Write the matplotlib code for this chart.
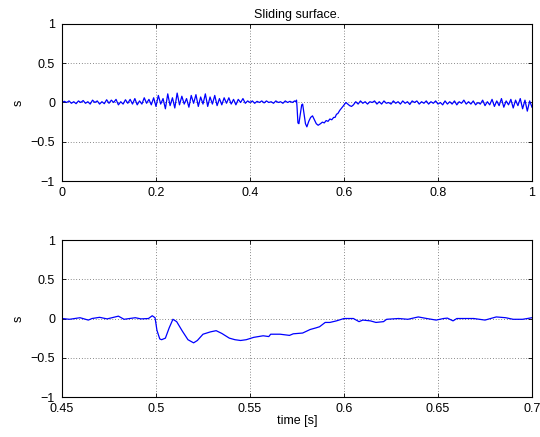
import numpy as np
import matplotlib
matplotlib.use("Agg")
import matplotlib.pyplot as plt

# --- top panel: sliding surface over the full run ---
s_noise_a = [  # t = 0.000 ... 0.495, step 0.005
    0.00, 0.015, 0.00, 0.02, -0.01, 0.01, -0.015, 0.02, 0.00, 0.025,
    -0.01, 0.01, -0.02, 0.03, 0.00, 0.02, -0.02, 0.01, -0.015, 0.035,
    -0.01, 0.03, 0.00, 0.04, -0.03, 0.01, -0.02, 0.035, -0.01, 0.04,
    -0.02, 0.05, -0.03, 0.02, -0.02, 0.06, -0.01, 0.04, -0.03, 0.06,
    -0.05, 0.09, -0.02, 0.05, -0.08, 0.11, -0.04, 0.06, -0.07, 0.12,
    -0.03, 0.08, -0.02, 0.05, -0.06, 0.09, -0.01, 0.10, -0.05, 0.07,
    -0.02, 0.11, -0.05, 0.07, -0.02, 0.09, -0.04, 0.05, -0.03, 0.06,
    -0.01, 0.06, -0.02, 0.04, -0.03, 0.04, 0.00, 0.05, -0.01, 0.02,
    0.00, 0.02, -0.01, 0.015, 0.00, 0.02, -0.005, 0.02, 0.00, 0.01,
    -0.01, 0.02, 0.00, 0.01, -0.01, 0.02, 0.00, 0.015, 0.00, 0.02,
]
t_event = [0.497, 0.499, 0.500, 0.502, 0.504, 0.507, 0.510, 0.512, 0.515, 0.518,
           0.521, 0.525, 0.529, 0.533, 0.537, 0.541, 0.545, 0.550, 0.554, 0.558,
           0.562, 0.566, 0.570, 0.574, 0.578, 0.581, 0.584, 0.587, 0.591, 0.595,
           0.599, 0.604, 0.608, 0.612, 0.616, 0.620]
s_event = [0.01, 0.03, -0.05, -0.26, -0.27, -0.15, -0.03, -0.02, -0.15, -0.27,
           -0.31, -0.24, -0.19, -0.17, -0.22, -0.27, -0.29, -0.27, -0.25, -0.26,
           -0.23, -0.24, -0.21, -0.22, -0.19, -0.19, -0.15, -0.14, -0.10, -0.07,
           -0.04, 0.00, -0.02, -0.04, -0.05, -0.03]
s_noise_b = [  # t = 0.625 ... 1.000, step 0.005
    0.01, -0.02, 0.02, -0.01, 0.01, -0.02, 0.01, 0.00, 0.02, -0.02,
    0.01, -0.02, 0.02, -0.01, 0.00, -0.02, 0.02, -0.01, 0.01, -0.02,
    0.02, -0.01, 0.01, -0.025, 0.02, 0.00, 0.02, -0.02, 0.01, -0.01,
    0.02, -0.02, 0.01, -0.01, 0.02, -0.02, 0.00, -0.03, 0.02, -0.02,
    0.01, -0.02, 0.02, -0.03, 0.01, -0.01, 0.03, -0.02, 0.01, -0.02,
    0.02, -0.03, 0.00, -0.02, 0.03, -0.04, 0.01, -0.03, 0.04, -0.05,
    0.02, -0.04, 0.05, -0.06, 0.02, -0.03, 0.04, -0.07, 0.03, -0.04,
    0.05, -0.08, 0.03, -0.11, 0.02, -0.06,
]

# --- bottom panel: zoom on 0.45 ... 0.7 s ---
t_zoom = [0.450, 0.454, 0.4596, 0.464, 0.466, 0.470, 0.474, 0.480, 0.483, 0.489,
          0.492, 0.496, 0.498, 0.4995, 0.5005, 0.502, 0.503, 0.505, 0.507, 0.509,
          0.511, 0.514, 0.517, 0.520, 0.522, 0.525, 0.529, 0.532, 0.535, 0.539,
          0.542, 0.545, 0.548, 0.552, 0.557, 0.560, 0.561, 0.566, 0.571, 0.573,
          0.578, 0.582, 0.585, 0.587, 0.590, 0.5925, 0.596, 0.600, 0.605, 0.608,
          0.610, 0.614, 0.617, 0.621, 0.6227, 0.629, 0.634, 0.6395, 0.644, 0.649,
          0.653, 0.655, 0.658, 0.660, 0.669, 0.675, 0.681, 0.686, 0.690, 0.695,
          0.700]
s_zoom = [0.00, -0.01, 0.01, -0.02, 0.00, 0.015, -0.005, 0.03, -0.01, 0.01,
          -0.005, 0.00, 0.035, 0.01, -0.15, -0.26, -0.27, -0.25, -0.12, -0.01,
          -0.04, -0.16, -0.27, -0.31, -0.28, -0.20, -0.17, -0.155, -0.19, -0.25,
          -0.27, -0.28, -0.27, -0.24, -0.22, -0.23, -0.20, -0.20, -0.215, -0.195,
          -0.185, -0.14, -0.12, -0.105, -0.05, -0.05, -0.03, 0.00, 0.00, -0.04,
          -0.02, -0.03, -0.05, -0.04, -0.01, 0.00, -0.01, 0.02, 0.00, -0.02,
          0.00, 0.005, -0.03, 0.00, 0.00, -0.02, 0.02, 0.01, -0.01, -0.01,
          0.01]

t_a = np.arange(len(s_noise_a)) * 0.005
t_b = 0.625 + np.arange(len(s_noise_b)) * 0.005
t_top = np.concatenate([t_a, t_event, t_b])
s_top = np.concatenate([s_noise_a, s_event, s_noise_b])

plt.rcParams['font.family'] = ['Liberation Sans', 'DejaVu Sans']
plt.rcParams['font.size'] = 9

fig = plt.figure(figsize=(5.4, 4.37), dpi=100)
ax1 = fig.add_axes([0.1148, 0.5858, 0.8704, 0.3593])
ax2 = fig.add_axes([0.1148, 0.0915, 0.8704, 0.3593])


def style(ax, xt, xl):
    ax.set_xticks(xt)
    ax.set_xticklabels(xl)
    ax.set_yticks([-1, -0.5, 0, 0.5, 1])
    ax.set_yticklabels(['\u22121', '\u22120.5', '0', '0.5', '1'])
    ax.set_ylim(-1, 1)
    ax.grid(True, linestyle=(0, (1, 3)), color='#202020', linewidth=0.5)
    ax.tick_params(direction='in', top=True, right=True, length=3,
                   width=0.6, labelsize=9)
    ax.tick_params(axis='y', pad=5)
    ax.tick_params(axis='x', pad=4)
    for sp in ax.spines.values():
        sp.set_linewidth(0.8)
    ax.set_ylabel('s', fontsize=9, labelpad=4)


ax1.plot(t_top, s_top, color='#0000ff', linewidth=0.9)
ax1.set_xlim(0, 1)
style(ax1, [0, 0.2, 0.4, 0.6, 0.8, 1], ['0', '0.2', '0.4', '0.6', '0.8', '1'])
ax1.set_title('Sliding surface.', fontsize=9, pad=4)

ax2.plot(t_zoom, s_zoom, color='#0000ff', linewidth=0.9)
ax2.set_xlim(0.45, 0.7)
style(ax2, [0.45, 0.5, 0.55, 0.6, 0.65, 0.7],
      ['0.45', '0.5', '0.55', '0.6', '0.65', '0.7'])
ax2.set_xlabel('time [s]', fontsize=9, labelpad=0)

fig.savefig('out.png', dpi=100)
